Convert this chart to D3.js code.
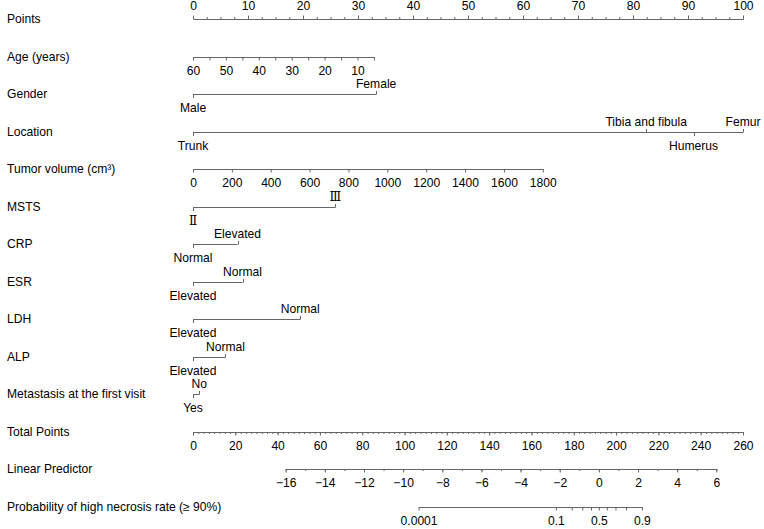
<!DOCTYPE html>
<html>
<head>
    <title>Nomogram - high necrosis rate</title>
    <script src="https://d3js.org/d3.v7.min.js"></script>
    <style>
        body { margin: 0; background: #fff; }
        svg text { font-family: "Liberation Sans", Arial, sans-serif; font-size: 12.1px; fill: #000; }
        .axis path, .axis line, .var line { stroke: #666; stroke-width: 1; }
        .roman { font-family: "Liberation Serif", "DejaVu Serif", serif !important; }
    </style>
</head>
<body>
<div class="chart"></div>
<script>
    // Row labels (top to bottom)
    const rowNames = ["Points", "Age (years)", "Gender", "Location", "Tumor volume (cm³)", "MSTS", "CRP", "ESR",
        "LDH", "ALP", "Metastasis at the first visit", "Total Points", "Linear Predictor",
        "Probability of high necrosis rate (≥ 90%)"];

    // Points axis
    const pointsMajor = [0, 10, 20, 30, 40, 50, 60, 70, 80, 90, 100];
    const pointsMinor = d3.range(0, 100.001, 2.5);

    // Age: value range and matching points
    const ageDomain = [60, 5];
    const agePoints = [0, 32.9];
    const ageTicks = [60, 55, 50, 45, 40, 35, 30, 25, 20, 15, 10, 5];
    const ageLabels = [60, 50, 40, 30, 20, 10];

    // Tumor volume
    const volumeDomain = [0, 1800];
    const volumePoints = [0, 63.6];
    const volumeTicks = [0, 200, 400, 600, 800, 1000, 1200, 1400, 1600, 1800];

    // Categorical variables
    const genderLevels = ["Male", "Female"];
    const genderPoints = [0, 33.3];
    const locationLevels = ["Trunk", "Tibia and fibula", "Humerus", "Femur"];
    const locationPoints = [0, 82.4, 91.0, 100];
    const mstsLevels = ["Ⅱ", "Ⅲ"];
    const mstsPoints = [0, 25.9];
    const crpLevels = ["Normal", "Elevated"];
    const crpPoints = [0, 8.1];
    const esrLevels = ["Elevated", "Normal"];
    const esrPoints = [0, 9.0];
    const ldhLevels = ["Elevated", "Normal"];
    const ldhPoints = [0, 19.5];
    const alpLevels = ["Elevated", "Normal"];
    const alpPoints = [0, 5.9];
    const metaLevels = ["Yes", "No"];
    const metaPoints = [0, 1.15];

    // Total points
    const totalRange = [0, 260];
    const totalMajor = d3.range(0, 260.001, 20);
    const totalMinor = d3.range(0, 260.001, 2.5);

    // Linear predictor, and the total points where its ends sit
    const lpRange = [-16, 6];
    const lpTotalPoints = [43.8, 247.4];
    const lpMajor = [-16, -14, -12, -10, -8, -6, -4, -2, 0, 2, 4, 6];
    const lpMinor = d3.range(-16, 6.001, 1);

    // Probability
    const probTicks = [0.0001, 0.1, 0.2, 0.3, 0.4, 0.5, 0.6, 0.7, 0.8, 0.9];
    const probLabels = [0.0001, 0.1, 0.5, 0.9];

    // Dimensions
    const width = 764, height = 529;
    const left = 193, right = 743;

    const svg = d3.select(".chart")
        .append("svg")
        .attr("width", width)
        .attr("height", height);

    // Scales
    const y = d3.scalePoint().domain(rowNames).range([19, 507]);
    const xPts = d3.scaleLinear().domain([0, 100]).range([left, right]);
    const xTot = d3.scaleLinear().domain(totalRange).range([left, right]);
    const xLp = d3.scaleLinear().domain(lpRange).range(lpTotalPoints.map(xTot));
    const logit = p => Math.log(p / (1 - p));

    // Row labels
    svg.selectAll(".row-label")
        .data(rowNames)
        .enter()
        .append("text")
        .attr("class", "row-label")
        .attr("x", 7)
        .attr("y", d => Math.round(y(d)))
        .attr("dy", "0.3em")
        .text(d => d);

    // Draw an axis: major ticks with labels, minor ticks without
    function drawAxis(row, scale, dir, majors, minors, fmt, majorLen, minorLen) {
        const make = dir === "top" ? d3.axisTop : d3.axisBottom;
        const g = svg.append("g")
            .attr("class", "axis")
            .attr("transform", `translate(0, ${Math.round(y(row))})`);
        if (minors) {
            g.append("g").call(make(scale).tickValues(minors).tickSize(minorLen).tickSizeOuter(0).tickFormat(""));
        }
        g.append("g").call(make(scale).tickValues(majors).tickSize(majorLen).tickSizeOuter(0)
            .tickPadding(6).tickFormat(fmt));
        g.selectAll("text").attr("font-size", null).attr("font-family", null);
        return g;
    }

    const minus = d => d < 0 ? "\u2212" + Math.abs(d) : String(d);

    // Points
    drawAxis("Points", xPts, "top", pointsMajor, pointsMinor, d => d, 3.5, 2);

    // Age
    const ageScale = d3.scaleLinear().domain(ageDomain).range(agePoints.map(xPts));
    drawAxis("Age (years)", ageScale, "bottom", ageTicks, null, d => ageLabels.includes(d) ? d : "", 3.5);

    // Tumor volume
    const volScale = d3.scaleLinear().domain(volumeDomain).range(volumePoints.map(xPts));
    drawAxis("Tumor volume (cm³)", volScale, "bottom", volumeTicks, null, d => d, 3.5);

    // Categorical rows
    function drawFactor(row, levels, points, roman) {
        const data = levels.map((l, i) => ({ label: l, pts: points[i] }))
            .sort((a, b) => a.pts - b.pts)
            .map((d, i) => ({ ...d, up: i % 2 === 1 }));
        const g = svg.append("g")
            .attr("class", "var")
            .attr("transform", `translate(0, ${Math.round(y(row)) + 0.5})`);
        g.append("line")
            .attr("x1", xPts(d3.min(points)))
            .attr("x2", xPts(d3.max(points)));
        g.selectAll(".tick")
            .data(data)
            .enter()
            .append("line")
            .attr("x1", d => Math.round(xPts(d.pts)) + 0.5)
            .attr("x2", d => Math.round(xPts(d.pts)) + 0.5)
            .attr("y1", 0)
            .attr("y2", d => d.up ? -3.5 : 3.5);
        g.selectAll(".lab")
            .data(data)
            .enter()
            .append("text")
            .attr("class", roman ? "roman" : null)
            .attr("text-anchor", "middle")
            .attr("x", d => xPts(d.pts))
            .attr("y", d => d.up ? -7 : 17)
            .text(d => d.label);
    }

    drawFactor("Gender", genderLevels, genderPoints);
    drawFactor("Location", locationLevels, locationPoints);
    drawFactor("MSTS", mstsLevels, mstsPoints, true);
    drawFactor("CRP", crpLevels, crpPoints);
    drawFactor("ESR", esrLevels, esrPoints);
    drawFactor("LDH", ldhLevels, ldhPoints);
    drawFactor("ALP", alpLevels, alpPoints);
    drawFactor("Metastasis at the first visit", metaLevels, metaPoints);

    // Total points
    drawAxis("Total Points", xTot, "bottom", totalMajor, totalMinor, d => d, 3.5, 2);

    // Linear predictor
    drawAxis("Linear Predictor", xLp, "bottom", lpMajor, lpMinor, minus, 3.5, 2);

    // Probability (placed on the linear predictor via logit)
    const probEnds = d3.extent(probTicks).map(logit);
    const probScale = xLp.copy().domain(probEnds).range(probEnds.map(xLp));
    drawAxis("Probability of high necrosis rate (≥ 90%)", probScale, "bottom",
        probTicks.map(logit), null,
        (d, i) => probLabels.includes(probTicks[i]) ? String(probTicks[i]) : "", 3.5);
</script>
</body>
</html>
